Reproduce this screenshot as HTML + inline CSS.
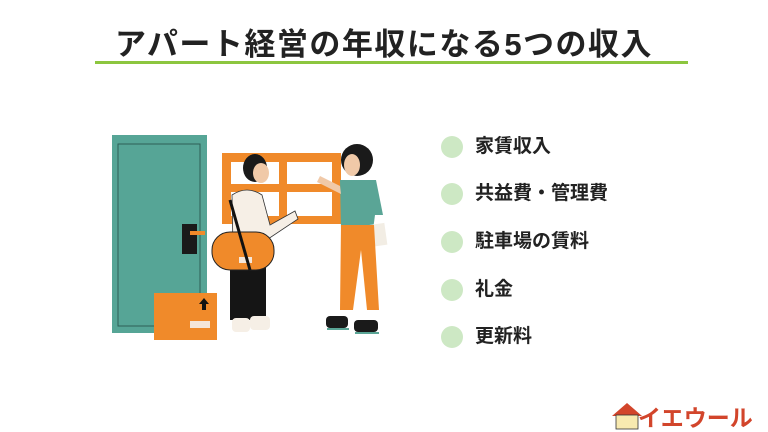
<!DOCTYPE html>
<html><head><meta charset="utf-8"><style>
body{margin:0;width:768px;height:432px;background:#fff;overflow:hidden;position:relative;font-family:"Liberation Sans","Noto Sans CJK JP",sans-serif;}
.t{position:absolute;top:19px;left:0;width:768px;text-align:center;font-size:31px;font-weight:bold;color:#222;letter-spacing:1.5px}
.ul{position:absolute;left:95px;top:61px;width:593px;height:3px;background:#8cc63f}
.li{position:absolute;left:441px;font-size:19px;font-weight:bold;color:#222;line-height:22px}
.li span{display:inline-block;width:22px;height:22px;border-radius:50%;background:#cde8c4;vertical-align:middle;margin-right:12px}
</style></head><body>
<div class="t">アパート経営の年収になる5つの収入</div>
<div class="ul"></div>
<div class="li" style="top:136px"><span></span>家賃収入</div>
<div class="li" style="top:183px"><span></span>共益費・管理費</div>
<div class="li" style="top:231px"><span></span>駐車場の賃料</div>
<div class="li" style="top:279px"><span></span>礼金</div>
<div class="li" style="top:326px"><span></span>更新料</div>
<svg width="768" height="432" style="position:absolute;left:0;top:0">
<rect x="112" y="135" width="95" height="198" fill="#56a596"/>
<rect x="118" y="144" width="82" height="182" fill="none" stroke="#2d5f56" stroke-width="1"/>
<rect x="182" y="224" width="15" height="30" fill="#1a1a1a"/>
<rect x="190" y="231" width="15" height="4" fill="#f08a2a"/>
<rect x="222" y="153" width="119" height="71" fill="#f08a2a"/>
<rect x="231" y="162" width="48" height="22" fill="#fff"/><rect x="287" y="162" width="45" height="22" fill="#fff"/>
<rect x="231" y="192" width="48" height="24" fill="#fff"/><rect x="287" y="192" width="45" height="24" fill="#fff"/>
<rect x="154" y="293" width="63" height="47" fill="#f08a2a"/>
<path d="M199 304l5 -6 5 6h-3v6h-4v-6z" fill="#111"/>
<rect x="190" y="321" width="20" height="7" fill="#f5e6d8"/>
<ellipse cx="255" cy="168" rx="12" ry="14" fill="#1a1a1a"/>
<ellipse cx="261" cy="173" rx="8" ry="10" fill="#f0c9a8"/>
<path d="M232 195q15 -10 30 0l8 30 25 -14 3 8 -30 20 -5 10h-30z" fill="#f6efe6" stroke="#333" stroke-width="0.8"/>
<rect x="230" y="265" width="36" height="55" fill="#151515"/>
<rect x="232" y="318" width="18" height="14" rx="4" fill="#f6efe6"/>
<rect x="250" y="316" width="20" height="14" rx="4" fill="#f6efe6"/>
<rect x="212" y="232" width="62" height="38" rx="18" fill="#f08a2a" stroke="#222" stroke-width="1"/>
<rect x="239" y="257" width="13" height="6" fill="#f5e6d8"/>
<path d="M230 200l20 70" stroke="#111" stroke-width="3"/>
<ellipse cx="357" cy="160" rx="16" ry="16" fill="#1a1a1a"/>
<ellipse cx="352" cy="165" rx="8" ry="11" fill="#f0c9a8"/>
<path d="M340 180h36l7 35h-8l-2 15h-32z" fill="#5aa596"/>
<path d="M340 186l-20 -10 -3 6 24 12z" fill="#f0c9a8"/>
<rect x="356" y="225" width="30" height="22" fill="#f2ede4" transform="rotate(-8 370 236)"/>
<path d="M341 225h33l5 85h-12l-6 -60 -8 60h-13z" fill="#f08a2a"/>
<rect x="326" y="316" width="22" height="12" rx="4" fill="#1a1a1a"/>
<rect x="354" y="320" width="24" height="12" rx="4" fill="#1a1a1a"/>
<path d="M327 329h22M355 333h24" stroke="#5aa596" stroke-width="2"/>
<path d="M612 416l15 -13 15 13z" fill="#d2452b"/>
<rect x="616" y="415" width="22" height="14" fill="#f8eab0" stroke="#333" stroke-width="0.8"/>
<text x="638" y="426" font-family="Liberation Sans,Noto Sans CJK JP,sans-serif" font-size="23" font-weight="bold" fill="#d2452b">イエウール</text>
</svg>
</body></html>
